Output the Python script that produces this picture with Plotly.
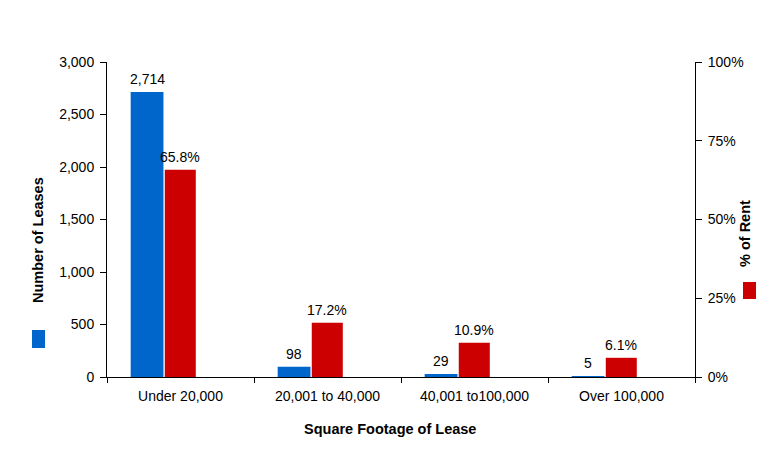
import plotly.graph_objects as go

categories = ["Under 20,000", "20,001 to 40,000", "40,001 to100,000", "Over 100,000"]
num_leases = [2714, 98, 29, 5]
pct_rent = [0.658, 0.172, 0.109, 0.061]
lease_labels = ["2,714", "98", "29", "5"]
rent_labels = ["65.8%", "17.2%", "10.9%", "6.1%"]

OFF = 8  # default page body margin
W, H = 778 - OFF, 471 - OFF
L, R, T, B = 107 - OFF, 695 - OFF, 62 - OFF, 377 - OFF

def px_x(x):
    return (x - OFF - L) / (R - L)

def px_y(y):
    return (B - (y - OFF)) / (B - T)

BLUE = "#0066CC"
RED = "#CC0000"
FONT = "Liberation Sans, Arial, sans-serif"
FS = 14
TFS = 14.5

BW1, BO1 = 0.223, -0.339
BW2, BO2 = 0.211, -0.107

fig = go.Figure()
fig.add_trace(go.Bar(
    x=categories, y=num_leases, name="Number of Leases",
    marker=dict(color=BLUE, line=dict(width=0)),
    width=BW1, offset=BO1, yaxis="y",
))
fig.add_trace(go.Bar(
    x=categories, y=pct_rent, name="% of Rent",
    marker=dict(color=RED, line=dict(width=0)),
    width=BW2, offset=BO2, yaxis="y2",
))

annotations = []
for i, (v, t) in enumerate(zip(num_leases, lease_labels)):
    annotations.append(dict(text=t, x=i + BO1 + BW1 / 2, y=v, xref="x", yref="y",
                            showarrow=False, yanchor="bottom", xanchor="center",
                            yshift=3, font=dict(size=FS, color="black")))
for i, (v, t) in enumerate(zip(pct_rent, rent_labels)):
    annotations.append(dict(text=t, x=i + BO2 + BW2 / 2, y=v, xref="x", yref="y2",
                            showarrow=False, yanchor="bottom", xanchor="center",
                            yshift=3, font=dict(size=FS, color="black")))

annotations += [
    dict(text="<b>Number of Leases</b>", xref="paper", yref="paper",
         x=px_x(38), y=px_y(240), textangle=-90, showarrow=False,
         font=dict(size=TFS), xanchor="center", yanchor="middle"),
    dict(text="<b>% of Rent</b>", xref="paper", yref="paper",
         x=px_x(745), y=px_y(234), textangle=-90, showarrow=False,
         font=dict(size=TFS), xanchor="center", yanchor="middle"),
    dict(text="<b>Square Footage of Lease</b>", xref="paper", yref="paper",
         x=px_x(390), y=px_y(429), showarrow=False,
         font=dict(size=TFS), xanchor="center", yanchor="middle"),
]

fig.update_layout(
    width=W, height=H,
    margin=dict(l=L, r=W - R, t=T, b=H - B, pad=0),
    paper_bgcolor="white", plot_bgcolor="white",
    showlegend=False,
    font=dict(family=FONT, size=FS, color="black"),
    barmode="overlay",
    xaxis=dict(
        type="category", showgrid=False, showline=True, linecolor="black", linewidth=1,
        ticks="outside", ticklen=5, tickcolor="black", tickson="boundaries",
        tickfont=dict(size=FS), range=[-0.5, 3.5], ticklabelstandoff=6,
    ),
    yaxis=dict(
        range=[0, 3000], dtick=500, tickformat=",", showgrid=False,
        showline=True, linecolor="black", linewidth=1,
        ticks="outside", ticklen=6, tickcolor="black", tickfont=dict(size=FS),
        zeroline=False, ticklabelstandoff=3,
    ),
    yaxis2=dict(
        range=[0, 1], dtick=0.25, tickformat=".0%", overlaying="y", side="right",
        showgrid=False, showline=True, linecolor="black", linewidth=1,
        ticks="outside", ticklen=6, tickcolor="black", tickfont=dict(size=FS),
        zeroline=False, ticklabelstandoff=3,
    ),
    annotations=annotations,
    shapes=[
        dict(type="rect", xref="paper", yref="paper",
             x0=px_x(32), x1=px_x(45), y0=px_y(348), y1=px_y(330),
             fillcolor=BLUE, line=dict(width=0)),
        dict(type="rect", xref="paper", yref="paper",
             x0=px_x(743), x1=px_x(756), y0=px_y(299), y1=px_y(282),
             fillcolor=RED, line=dict(width=0)),
    ],
)

fig.write_html("out.html")
